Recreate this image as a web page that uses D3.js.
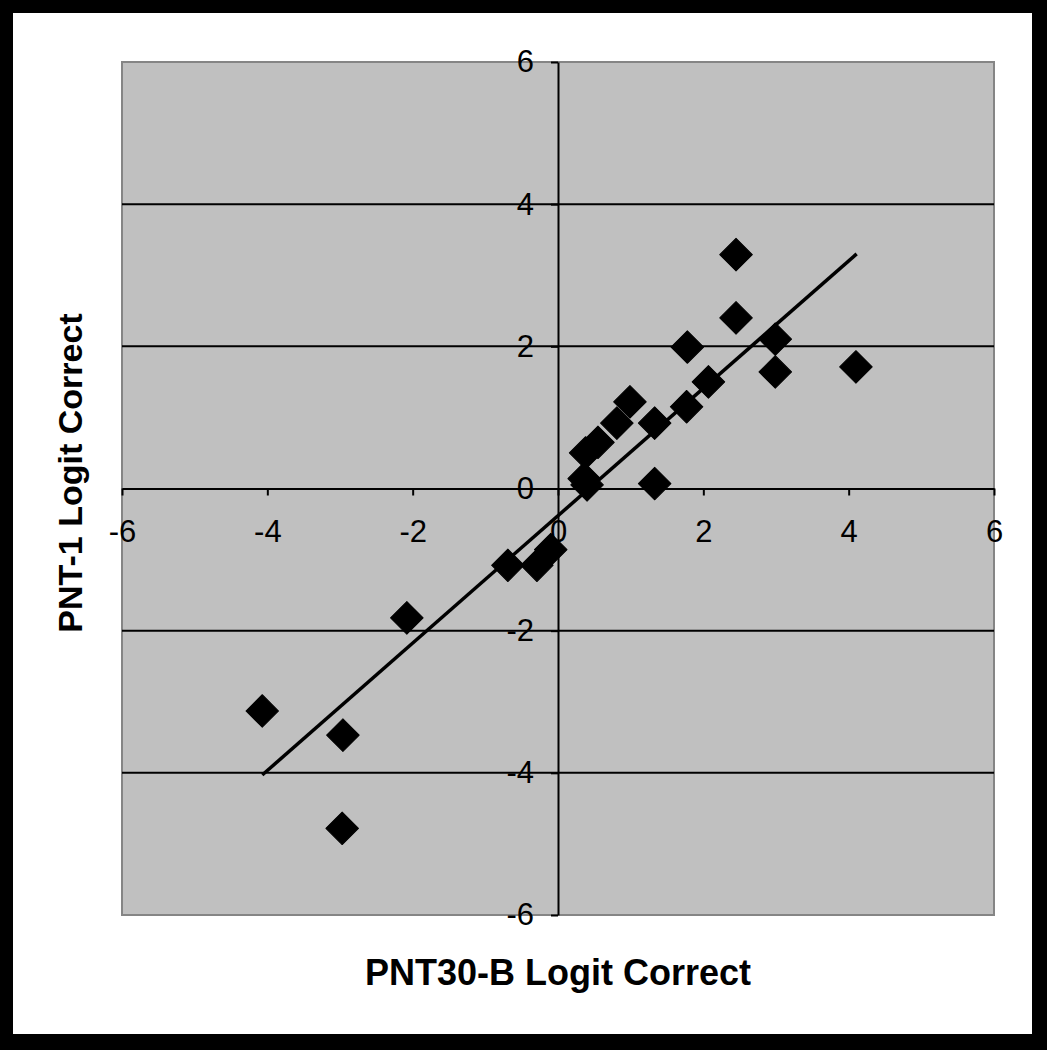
<!DOCTYPE html>
<html>
<head>
<meta charset="utf-8">
<script src="https://cdn.jsdelivr.net/npm/d3@7"></script>
<style>
  body { margin: 0; background: #fff; }
  text { font-family: "Liberation Sans", Arial, sans-serif; }
</style>
</head>
<body>
<div id="chart"></div>
<script>
// data
var pntB = [-4.07, -2.96, -2.97, -2.08, -0.69, -0.29, -0.10, 0.36, 0.40, 0.38, 0.55, 0.81,
            0.99, 1.33, 1.33, 1.77, 1.78, 2.07, 2.45, 2.45, 2.99, 2.99, 4.10];
var pnt1 = [-3.13, -3.47, -4.78, -1.82, -1.08, -1.08, -0.86, 0.14, 0.05, 0.50, 0.65, 0.92,
            1.22, 0.92, 0.07, 1.15, 1.99, 1.50, 2.40, 3.29, 2.10, 1.64, 1.71];
var trendX = [-4.07, 4.11];
var trendY = [-4.03, 3.30];
var ticks = [-6, -4, -2, 0, 2, 4, 6];
var gridTicks = [-4, -2, 2, 4];
var xTitle = "PNT30-B Logit Correct";
var yTitle = "PNT-1 Logit Correct";

var svgWidth = 1047;
var svgHeight = 1050;

var svg = d3
  .select("#chart")
  .append("svg")
  .attr("width", svgWidth)
  .attr("height", svgHeight);

// black frame round the picture
svg.append("rect").attr("width", svgWidth).attr("height", svgHeight).attr("fill", "#000");
svg.append("rect")
  .attr("x", 13).attr("y", 13)
  .attr("width", 1032 - 13).attr("height", 1034 - 13)
  .attr("fill", "#fff");

var xScale = d3.scaleLinear().domain([-6, 6]).range([122, 994]);
var yScale = d3.scaleLinear().domain([-6, 6]).range([915, 62]);

// plot area
svg.append("rect")
  .attr("x", xScale(-6)).attr("y", yScale(6))
  .attr("width", xScale(6) - xScale(-6))
  .attr("height", yScale(-6) - yScale(6))
  .attr("fill", "#c0c0c0")
  .attr("stroke", "#858585")
  .attr("stroke-width", 2);

// horizontal gridlines
svg.append("g")
  .selectAll("line")
  .data(gridTicks)
  .enter()
  .append("line")
  .attr("x1", xScale(-6))
  .attr("x2", xScale(6))
  .attr("y1", (d) => yScale(d))
  .attr("y2", (d) => yScale(d))
  .attr("stroke", "#000")
  .attr("stroke-width", 2);

// axes crossing at the origin
var bottomAxis = d3.axisBottom(xScale).tickValues(ticks).tickSize(7).tickSizeOuter(0).tickPadding(24);
var leftAxis = d3.axisLeft(yScale).tickValues(ticks).tickSize(7).tickSizeOuter(0).tickPadding(17);

var gx = svg.append("g").attr("transform", `translate(0, ${yScale(0)})`).call(bottomAxis);
var gy = svg.append("g").attr("transform", `translate(${xScale(0)}, 0)`).call(leftAxis);

[gx, gy].forEach(function (g) {
  g.select(".domain").attr("stroke", "#000").attr("stroke-width", 2);
  g.selectAll(".tick line").attr("stroke", "#000").attr("stroke-width", 2);
  g.selectAll(".tick text")
    .attr("fill", "#000")
    .style("font-size", "31px")
    .text((d) => d);
});

// trend line
svg.append("line")
  .attr("x1", xScale(trendX[0]))
  .attr("y1", yScale(trendY[0]))
  .attr("x2", xScale(trendX[1]))
  .attr("y2", yScale(trendY[1]))
  .attr("stroke", "#000")
  .attr("stroke-width", 3.5);

// diamonds
var diamond = d3.symbol().type(d3.symbolSquare).size(530);
svg.append("g")
  .selectAll("path")
  .data(pntB.map((x, i) => [x, pnt1[i]]))
  .enter()
  .append("path")
  .attr("d", diamond)
  .attr("transform", (d) => `translate(${xScale(d[0])}, ${yScale(d[1])}) rotate(45)`)
  .attr("fill", "#000")
  .attr("stroke", "#000")
  .attr("stroke-width", 1)
  .attr("stroke-linejoin", "round");

// axis titles
svg.append("text")
  .text(xTitle)
  .attr("x", 558)
  .attr("y", 985)
  .style("text-anchor", "middle")
  .style("font-size", "36px")
  .style("font-weight", "bold");

svg.append("text")
  .text(yTitle)
  .style("text-anchor", "middle")
  .style("font-size", "34px")
  .style("font-weight", "bold")
  .attr("transform", `translate(82, 473) rotate(-90)`);
</script>
</body>
</html>
